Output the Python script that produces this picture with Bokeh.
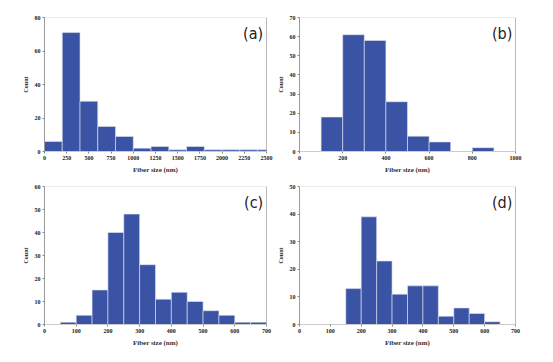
from bokeh.plotting import figure
from bokeh.layouts import column, row
from bokeh.models import Range1d, FixedTicker, Label, Span
from bokeh.embed import file_html
from bokeh.resources import INLINE

# ---- data ----
a_edges = [0, 200, 400, 600, 800, 1000, 1200, 1400, 1600, 1800, 2000, 2200, 2400, 2600]
a_counts = [6, 71, 30, 15, 9, 2, 3, 1, 3, 1, 1, 1, 1]
a_xticks = [0, 250, 500, 750, 1000, 1250, 1500, 1750, 2000, 2250, 2500]
a_yticks = [0, 20, 40, 60, 80]

b_edges = [100, 200, 300, 400, 500, 600, 700, 800, 900]
b_counts = [18, 61, 58, 26, 8, 5, 0, 2]
b_xticks = [0, 200, 400, 600, 800, 1000]
b_yticks = [0, 10, 20, 30, 40, 50, 60, 70]

c_edges = [50, 100, 150, 200, 250, 300, 350, 400, 450, 500, 550, 600, 650, 700]
c_counts = [1, 4, 15, 40, 48, 26, 11, 14, 10, 6, 4, 1, 1]
c_xticks = [0, 100, 200, 300, 400, 500, 600, 700]
c_yticks = [0, 10, 20, 30, 40, 50, 60]

d_edges = [150, 200, 250, 300, 350, 400, 450, 500, 550, 600, 650]
d_counts = [13, 39, 23, 11, 14, 14, 3, 6, 4, 1]
d_xticks = [0, 100, 200, 300, 400, 500, 600, 700]
d_yticks = [0, 10, 20, 30, 40, 50]

BAR = "#3b53a4"
SERIF = "Liberation Serif"


def panel(edges, counts, xticks, yticks, tag, width, height, bl, br, bt, bb):
    xmax = xticks[-1]
    ymax = yticks[-1]
    p = figure(width=width, height=height, output_backend="svg", toolbar_location=None,
               x_range=Range1d(0, xmax), y_range=Range1d(0, ymax),
               min_border_left=bl, min_border_right=br, min_border_top=bt, min_border_bottom=bb)
    p.grid.visible = False
    p.outline_line_color = "#ececec"
    p.background_fill_color = "white"
    p.quad(left=edges[:-1], right=edges[1:], top=counts, bottom=0,
           fill_color=BAR, line_color="#dfe4ef", line_width=0.6)
    for ax, ticks in ((p.xaxis, xticks), (p.yaxis, yticks)):
        ax.ticker = FixedTicker(ticks=ticks)
        ax.minor_tick_line_color = None
        ax.major_tick_out = 2
        ax.major_tick_in = 0
        ax.major_tick_line_color = "#888888"
        ax.major_label_text_font = SERIF
        ax.major_label_text_font_style = "bold"
        ax.major_label_text_font_size = "6px"
        ax.major_label_text_color = "#222222"
        ax.major_label_standoff = 2
        ax.axis_label_text_font = SERIF
        ax.axis_label_text_font_style = "bold"
        ax.axis_label_text_color = "#333333"
    p.xaxis.axis_line_color = "#cccccc"
    p.yaxis.axis_line_color = "#999999"
    p.xaxis.axis_label = "Fiber size (nm)"
    p.xaxis.axis_label_text_font_size = "7px"
    p.xaxis.axis_label_standoff = 3
    p.yaxis.axis_label = "Count"
    p.yaxis.axis_label_text_font_size = "6px"
    p.yaxis.axis_label_standoff = 3
    p.add_layout(Span(location=xmax, dimension="height", line_color="#888888", line_width=1))
    p.add_layout(Label(x=xmax * 0.985, y=ymax * 0.955, text=tag, text_align="right",
                       text_baseline="top", text_font="DejaVu Sans Condensed",
                       text_font_size="16px", text_color="#222222"))
    return p


pa = panel(a_edges, a_counts, a_xticks, a_yticks, "(a)", 274, 176, 44, 8, 17, 21)
pb = panel(b_edges, b_counts, b_xticks, b_yticks, "(b)", 271, 176, 20, 30, 17, 21)
pc = panel(c_edges, c_counts, c_xticks, c_yticks, "(c)", 274, 178, 44, 8, 10, 30)
pd_ = panel(d_edges, d_counts, d_xticks, d_yticks, "(d)", 271, 178, 20, 30, 10, 30)

layout = column(row(pa, pb), row(pc, pd_))
open("out.html", "w").write(file_html(layout, INLINE))
